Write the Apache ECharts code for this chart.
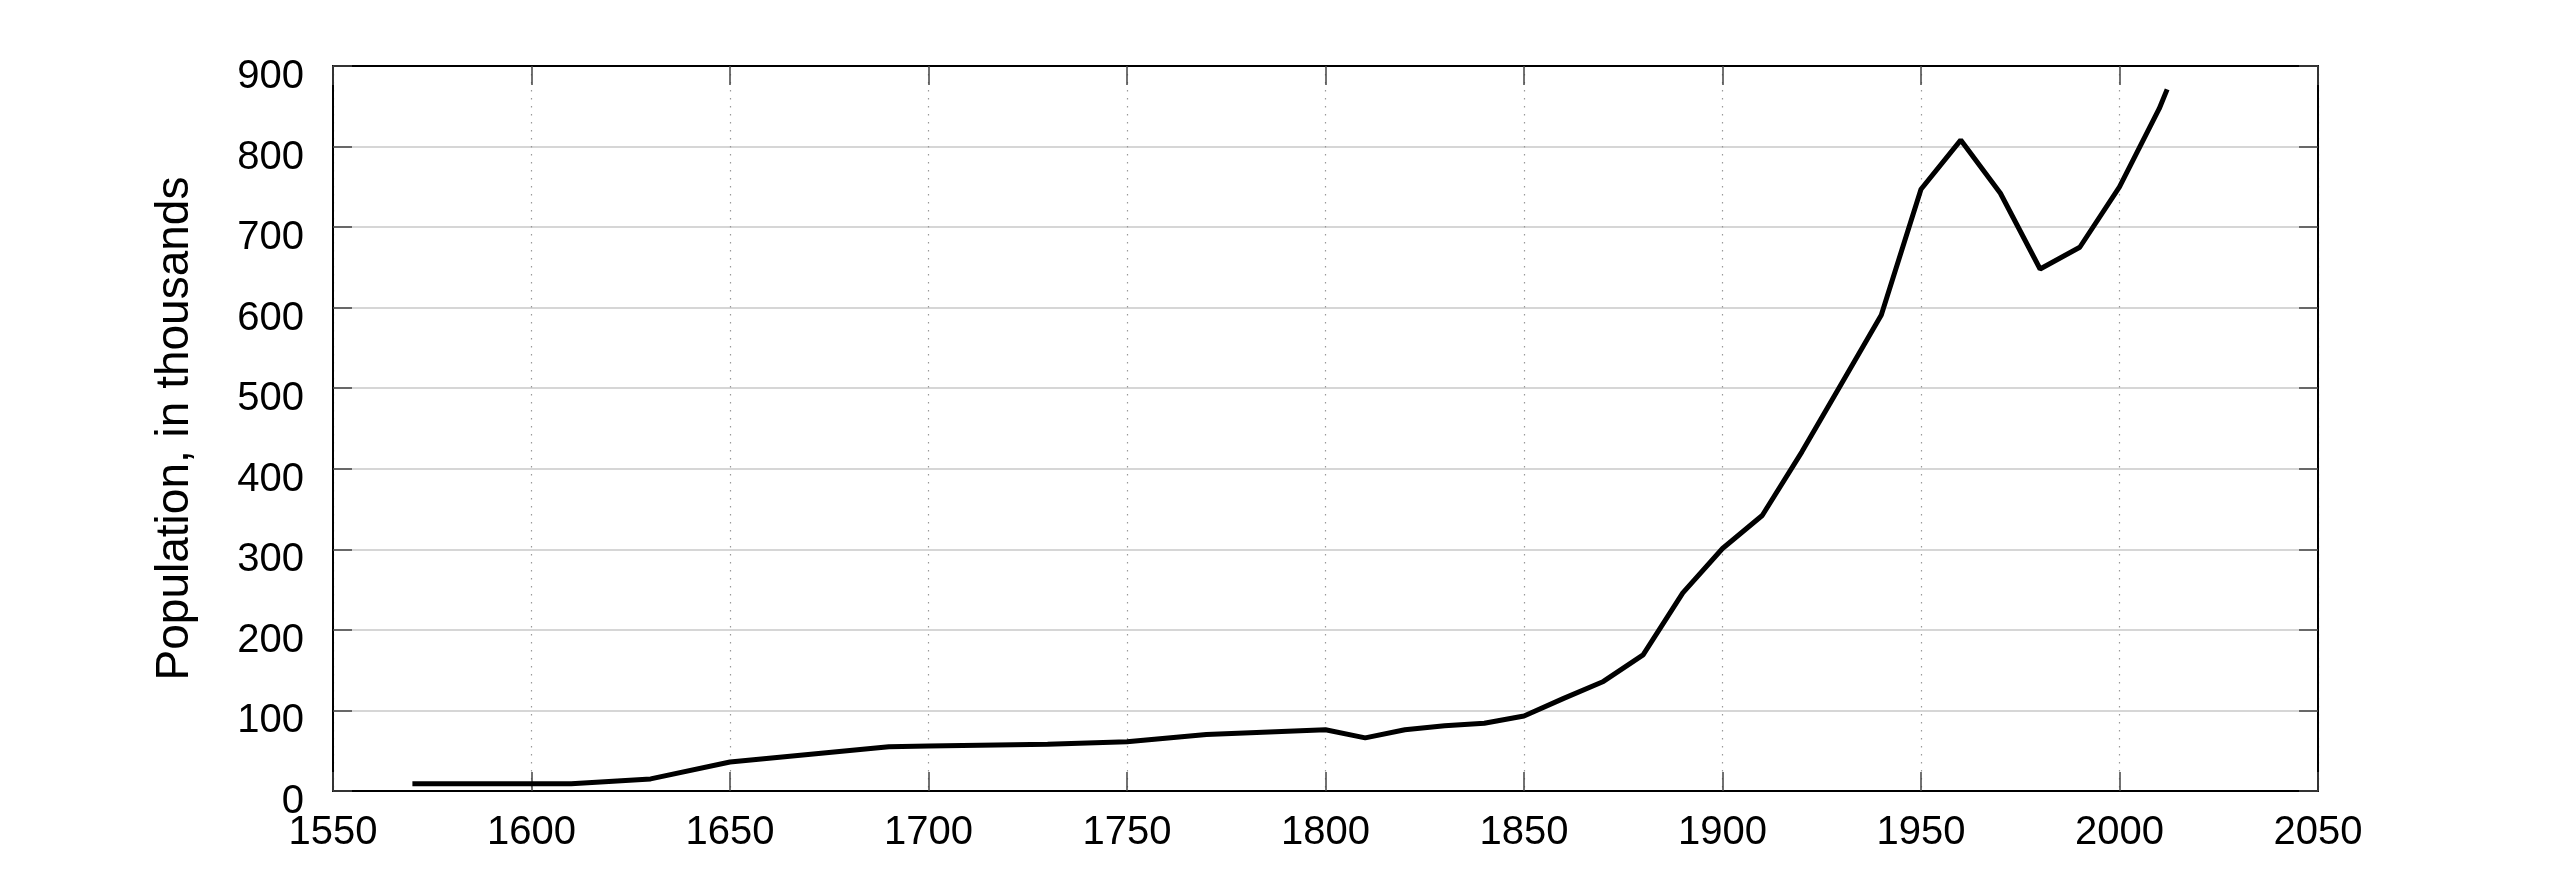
<!DOCTYPE html>
<html>
<head>
<meta charset="utf-8">
<script src="https://cdn.jsdelivr.net/npm/echarts@6/dist/echarts.min.js"></script>
<style>
html,body{margin:0;padding:0;background:#fff;}
#chart{width:2560px;height:889px;}
</style>
</head>
<body>
<div id="chart"></div>
<script>
const years = [1570, 1610, 1630, 1650, 1690, 1700, 1730, 1750, 1770, 1800, 1810, 1820, 1830, 1840, 1850, 1860, 1870, 1880, 1890, 1900, 1910, 1920, 1930, 1940, 1950, 1960, 1970, 1980, 1990, 2000, 2010, 2012];
const population = [9, 9, 15, 36, 55, 56, 58, 61, 70, 76, 66, 76, 81, 84, 93, 115, 136, 169, 246, 301, 342, 421, 506, 591, 747, 808, 742, 648, 675, 750, 847, 871];
const yTitle = 'Population, in thousands';

const FONT = 'Liberation Sans, Arial, Helvetica, sans-serif';
const chart = echarts.init(document.getElementById('chart'), null, {renderer: 'canvas'});
const tickStyle = {show: true, inside: true, length: 19, lineStyle: {color: '#444', width: 1.5}};
const lineAxis = {show: true, onZero: false, lineStyle: {color: '#000', width: 2}};

chart.setOption({
  animation: false,
  backgroundColor: '#fff',
  grid: {left: 333, right: 242, top: 66, bottom: 98, containLabel: false},
  xAxis: [
    {
      type: 'value', min: 1550, max: 2050, interval: 50, position: 'bottom',
      axisLine: lineAxis, axisTick: tickStyle,
      axisLabel: {color: '#000', fontSize: 40, fontFamily: FONT, margin: 22, formatter: v => String(v)},
      splitLine: {show: true, lineStyle: {color: '#999', width: 1.2, type: [1.5, 6.5]}}
    },
    {
      type: 'value', min: 1550, max: 2050, interval: 50, position: 'top',
      axisLine: lineAxis, axisTick: tickStyle,
      axisLabel: {show: false}, splitLine: {show: false}
    }
  ],
  yAxis: [
    {
      type: 'value', min: 0, max: 900, interval: 100, position: 'left',
      name: yTitle, nameLocation: 'middle', nameRotate: 90, nameGap: 135,
      nameTextStyle: {color: '#000', fontSize: 46, fontFamily: FONT},
      axisLine: lineAxis, axisTick: tickStyle,
      axisLabel: {color: '#000', fontSize: 40, fontFamily: FONT, margin: 29,
                  verticalAlign: 'top', lineHeight: 22, formatter: v => String(v)},
      splitLine: {show: true, lineStyle: {color: '#c8c8c8', width: 1.5}}
    },
    {
      type: 'value', min: 0, max: 900, interval: 100, position: 'right',
      axisLine: lineAxis, axisTick: tickStyle,
      axisLabel: {show: false}, splitLine: {show: false}
    }
  ],
  series: [{
    type: 'line',
    xAxisIndex: 0, yAxisIndex: 0,
    data: years.map((y, i) => [y, population[i]]),
    showSymbol: false,
    lineStyle: {color: '#000', width: 5},
    z: 5
  }]
});
</script>
</body>
</html>
